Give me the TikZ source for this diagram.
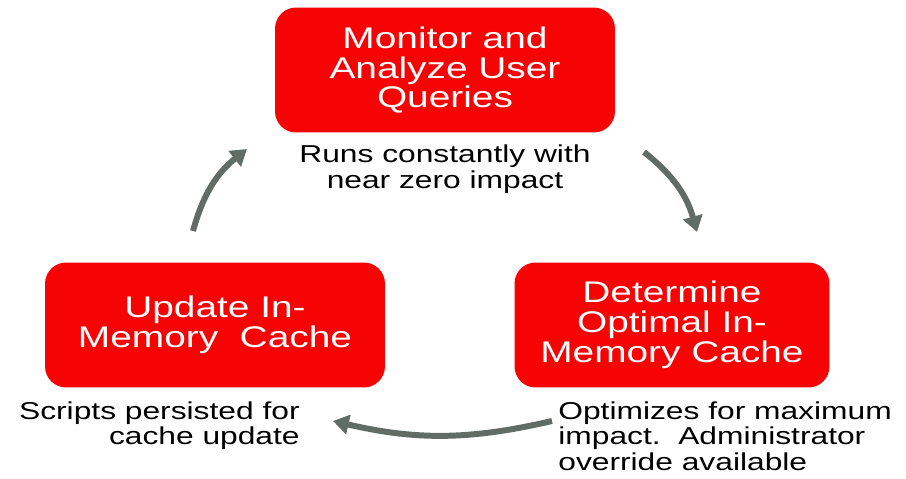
\documentclass[tikz,border=0pt]{standalone}
\usepackage{fontspec}
\setmainfont{Liberation Sans}[FakeStretch=1.3]
\usepackage{tikz}
\usetikzlibrary{arrows.meta,positioning}
\definecolor{boxred}{RGB}{246,4,4}
\definecolor{arrowgrey}{RGB}{98,108,103}

\begin{document}
\begin{tikzpicture}[
x=0.02cm, y=-0.02cm,
stage/.style={draw=none, fill=boxred, rounded corners=12pt, text=white, align=center,
  font=\fontsize{17}{17}\selectfont, minimum width=6.8cm, minimum height=2.5cm},
note/.style={inner sep=0pt, text=black, font=\fontsize{13.9}{14.5}\selectfont},
cycle/.style={line width=3.4pt, draw=arrowgrey, -{Triangle[width=11pt,length=9pt]}}
]
\useasboundingbox (0,0) rectangle (906,478);

% Boxes
\node[stage] (monitor) at (445,70) {Monitor and\\Analyze User\\Queries};
\node[stage, minimum width=6.3cm] (determine) at (672,325) {Determine\\Optimal In-\\Memory Cache};
\node[stage] (update) at (215,325) {Update In-\\Memory~~Cache};

% Notes
\node[note, align=center, below=0.24cm of monitor] (monitorNote) {Runs constantly with\\near zero impact};
\node[note, align=left, anchor=north west] (determineNote) at (558,401) {Optimizes for maximum\\impact.~~Administrator\\override available};
\node[note, align=right, anchor=north east] (updateNote) at (300,401) {Scripts persisted for\\cache update};

% Cycle arrows
\coordinate (toDetS) at (644,152);
\coordinate (toDetE) at (697,232);
\coordinate (toUpdS) at (552,421);
\coordinate (toUpdE) at (333,421);
\coordinate (toMonS) at (193,231);
\coordinate (toMonE) at (247,149);

\draw[cycle] (toDetS) to[bend left=18] (toDetE);
\draw[cycle] (toUpdS) to[bend left=13] (toUpdE);
\draw[cycle] (toMonS) to[bend left=18] (toMonE);
\end{tikzpicture}
\end{document}
